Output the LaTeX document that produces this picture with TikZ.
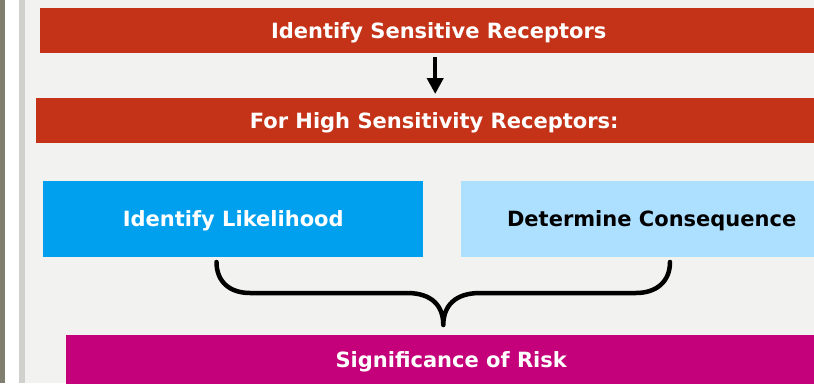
\documentclass[tikz,border=0pt]{standalone}
\usepackage{fontspec}
\setmainfont{DejaVu Sans}
\usetikzlibrary{arrows.meta}
\definecolor{bg}{RGB}{242,242,241}
\definecolor{barDark}{RGB}{128,126,110}
\definecolor{barLight}{RGB}{208,208,204}
\definecolor{boxRed}{RGB}{196,51,24}
\definecolor{boxBlue}{RGB}{0,160,238}
\definecolor{boxLight}{RGB}{173,223,255}
\definecolor{boxMag}{RGB}{196,0,122}
\tikzset{
  box/.style={rectangle, inner sep=0pt, anchor=north west, draw=none,
    font=\fontsize{21}{25}\selectfont\bfseries, text height=15.3pt, text depth=0pt},
  connector/.style={line width=4pt, -{Triangle[length=16pt 0 0,width=16pt 0 0]}},
  bracestyle/.style={line width=4.5pt, line cap=round, line join=round}
}
\begin{document}
\begin{tikzpicture}[x=1pt,y=-1pt]
\useasboundingbox (0,0) rectangle (814,383);
\clip (0,0) rectangle (814,383);
\fill[bg] (0,0) rectangle (814,383);
\fill[barDark] (0,0) rectangle (4.5,383);
\fill[white] (4.5,0) rectangle (19,383);
\fill[barLight] (19,0) rectangle (24.5,383);

\node[box, fill=boxRed, text=white, minimum width=797pt, minimum height=45pt] (b1) at (40,8) {Identify Sensitive Receptors};
\node[box, fill=boxRed, text=white, minimum width=796pt, minimum height=45pt] (b2) at (36,98) {For High Sensitivity Receptors:};
\node[box, fill=boxBlue, text=white, minimum width=380pt, minimum height=76pt] (lik) at (43,181) {Identify Likelihood};
\node[box, fill=boxLight, text=black, minimum width=381pt, minimum height=76pt] (con) at (461,181) {Determine Consequence};
\node[box, fill=boxMag, text=white, minimum width=770pt, minimum height=50pt] (sig) at (66,335) {Significance of Risk};

\draw[connector, shorten <=4pt, shorten >=4pt] ([xshift=-3.5pt]b1.south) -- ([xshift=-3.5pt]b1.south |- b2.north);

\coordinate (bl) at (216.5,262);
\coordinate (br) at (670,262);
\coordinate (tip) at (443.3,325);
\draw[bracestyle] (bl) .. controls (216.5,282) and (230,293) .. (250,293)
  -- (407,293) .. controls (432,293) and (443.3,306) .. (tip)
  .. controls (443.3,306) and (455,293) .. (480,293)
  -- (636,293) .. controls (656,293) and (670,282) .. (br);
\end{tikzpicture}
\end{document}
